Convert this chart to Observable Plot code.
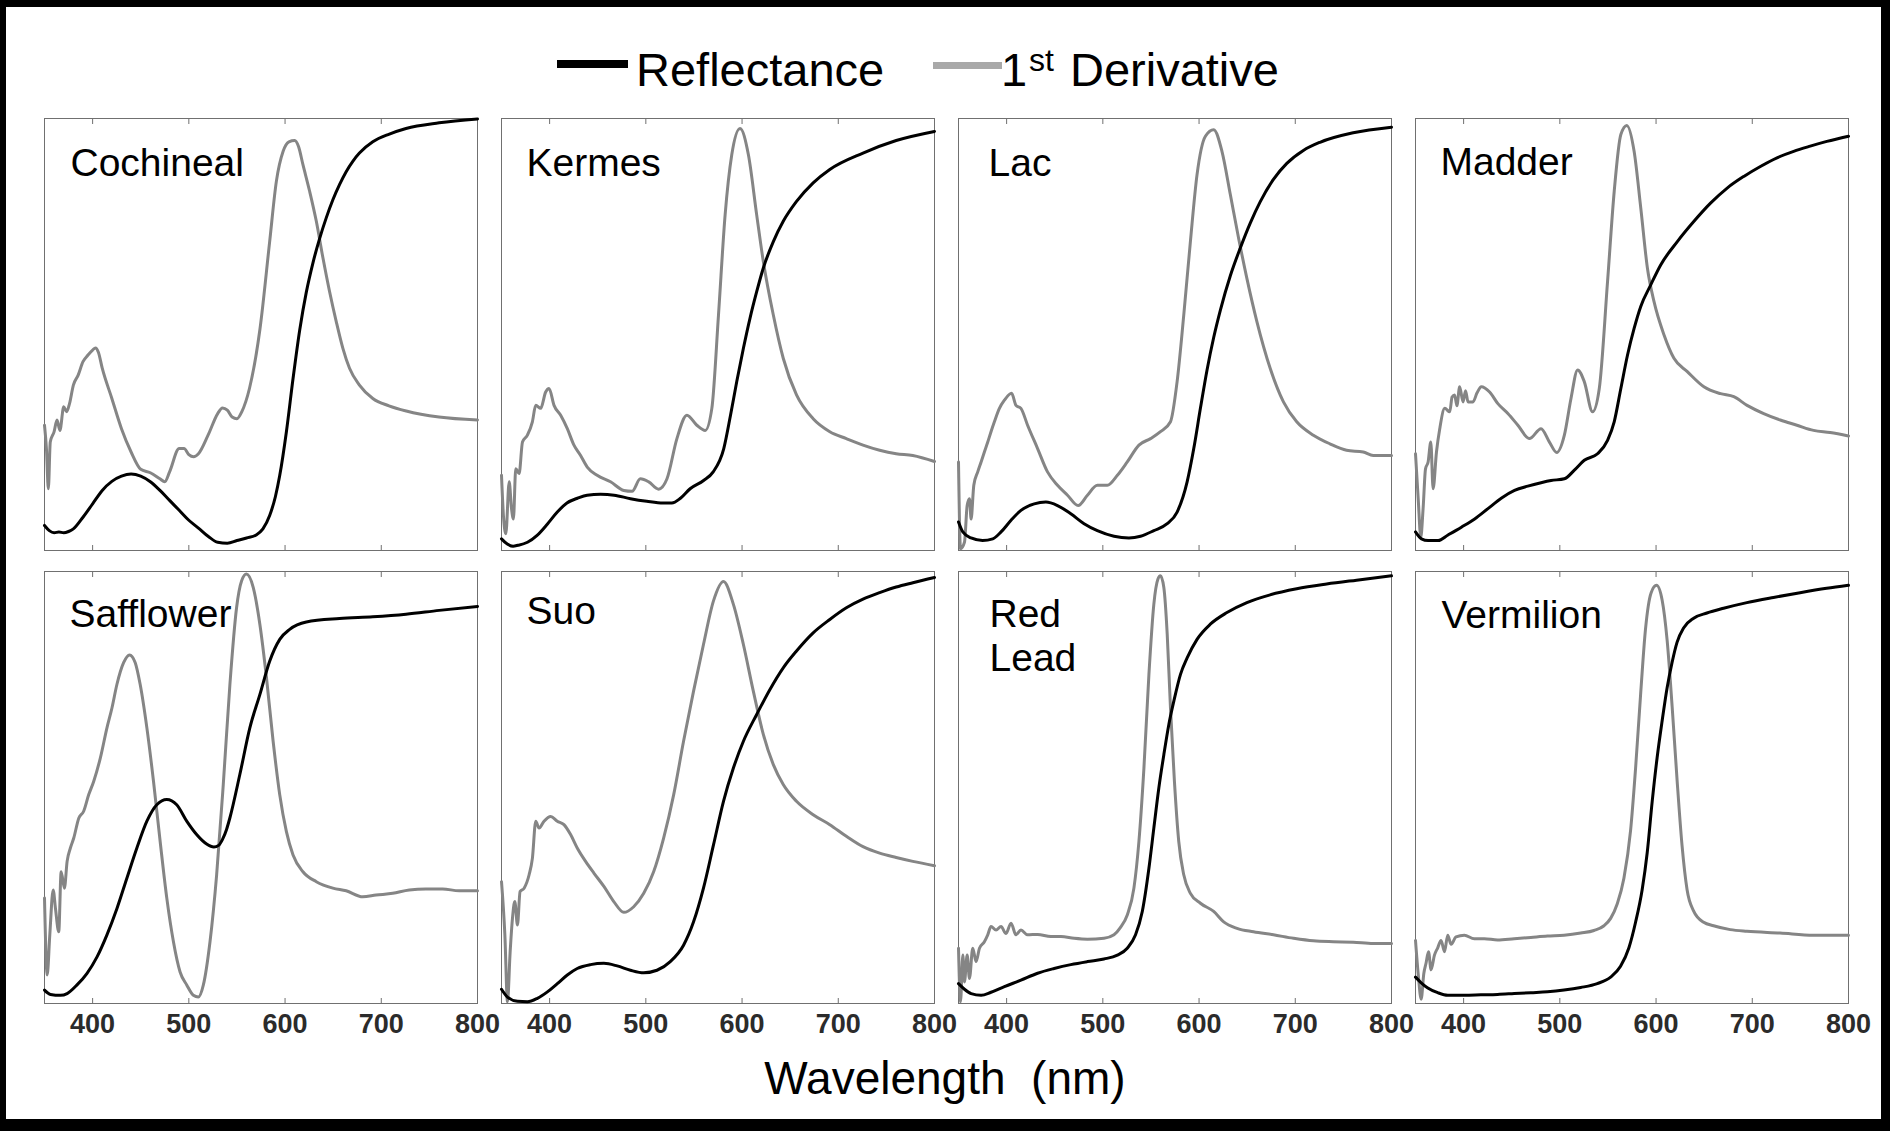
<!DOCTYPE html>
<html><head><meta charset="utf-8">
<script src="https://cdn.jsdelivr.net/npm/d3@7"></script>
<script src="https://cdn.jsdelivr.net/npm/@observablehq/plot@0.6"></script>
<style>
html,body{margin:0;padding:0;background:#fff;}
#wrap{position:relative;width:1890px;height:1141px;overflow:hidden;font-family:"Liberation Sans",Arial,sans-serif;background:#fff;}
#border{position:absolute;left:0;top:0;width:1890px;height:1131px;box-sizing:border-box;border-style:solid;border-color:#000;border-width:7px 9px 12px 6px;pointer-events:none;}
#chart{position:absolute;left:0;top:100px;}
.leg{position:absolute;font-size:47px;line-height:47px;color:#000;white-space:pre;}
.sw{position:absolute;}
#xlabel{position:absolute;left:0;top:1055px;width:1890px;text-align:center;font-size:46px;line-height:46px;white-space:pre;color:#000;}
</style></head>
<body>
<div id="wrap">
  <div class="sw" style="left:557px;top:60px;width:71px;height:8px;background:#000;"></div>
  <span class="leg" style="left:636px;top:46px;">Reflectance</span>
  <div class="sw" style="left:933px;top:62px;width:69px;height:7px;background:#a9a9a9;"></div>
  <span class="leg" style="left:1001px;top:46px;">1</span>
  <span class="leg" style="left:1029px;top:44px;font-size:32px;line-height:32px;">st</span>
  <span class="leg" style="left:1070px;top:46px;">Derivative</span>
  <div id="chart"></div>
  <div id="xlabel">Wavelength  (nm)</div>
  <div id="border"></div>
</div>
<script>
// ---- data: [wavelength nm, normalized value %] ----
const pigments = ["Cochineal", "Kermes", "Lac", "Madder", "Safflower", "Suo", "Red\nLead", "Vermilion"];
const seriesNames = ["Reflectance", "1st Derivative"];
const tickValues = [400, 500, 600, 700];
const tickLabels = [400, 500, 600, 700, 800];

const cochinealR = [[350,5.8],[355,4.6],[360,4.1],[365,4.3],[370,4.1],[375,4.4],[380,5.0],[390,7.7],[400,10.8],[410,13.9],[420,16.0],[430,17.2],[440,17.7],[450,17.2],[460,15.9],[470,13.9],[480,11.6],[490,9.3],[500,7.0],[510,5.2],[520,3.3],[530,1.9],[540,1.7],[550,2.3],[560,2.9],[570,3.6],[577,5.0],[584,8.1],[590,12.5],[594.5,17.4],[601.4,27.5],[608.3,39.8],[615.2,51.0],[622.1,59.8],[629,66.6],[635.9,72.2],[642.8,77.0],[649.7,81.2],[656.6,84.7],[663.5,87.7],[670.4,90.1],[677.3,92.0],[691.2,94.6],[708.4,96.4],[725.7,97.7],[760.2,99.0],[800,99.9]];
const cochinealD = [[350,29.0],[352,23.6],[354,14.3],[356,25.1],[360,27.5],[363,30.2],[366,27.8],[370,33.3],[373,32.1],[376,34.0],[380,38.3],[385,40.6],[390,43.7],[395,45.2],[400,46.4],[403,46.9],[406,45.9],[410,42.2],[420,35.2],[430,28.2],[440,22.8],[450,18.8],[460,18.0],[470,16.6],[475,15.9],[480,18.2],[490,23.6],[495,23.6],[500,22.2],[505,21.7],[510,22.4],[520,26.7],[530,31.7],[535,33.0],[540,32.5],[545,30.9],[550,30.5],[555,32.1],[563,37.5],[574,51.4],[584,71.5],[591,85.5],[598,92.4],[604,94.6],[610,94.9],[614,93.5],[618.6,89.3],[625.6,83.1],[632.5,76.2],[639.4,67.7],[646.3,59.9],[653.2,53.0],[660.1,46.8],[667,42.2],[677.3,38.3],[691.2,35.2],[708,33.5],[726,32.3],[760,30.9],[800,30.2]];

const kermesR = [[350,2.7],[356,1.5],[362,1.0],[367,1.2],[377,1.9],[387,3.5],[398,6.2],[408,8.9],[418,11.0],[429,12.1],[439,12.8],[453,13.0],[467,12.8],[484,12.0],[501,11.4],[518,11.0],[527,11.0],[536,12.1],[546,14.3],[560,16.2],[570,18.2],[581,23.6],[588,31.3],[594.5,39.1],[601.4,46.8],[608.3,53.8],[615.2,59.9],[622.1,65.4],[632.5,71.5],[642.8,76.2],[656.6,80.8],[673.9,85.1],[691.2,88.2],[725.7,92.0],[760.2,94.9],[800,97.0]];
const kermesD = [[350,17.4],[352,8.1],[354.5,3.9],[358,15.9],[360.4,9.7],[362.4,7.3],[364.8,18.9],[368.3,17.8],[371.8,25.1],[376.9,26.7],[382.1,29.8],[385.6,33.6],[390.7,32.9],[395.9,36.7],[399.4,37.5],[404.6,33.6],[411.5,31.3],[418.4,28.2],[425.3,24.4],[432.2,22.0],[439.1,19.3],[449.4,17.4],[463.3,15.9],[477.1,13.9],[485.7,13.7],[494.3,16.6],[503,15.9],[513.3,14.2],[522,16.6],[532.3,25.9],[542.7,31.3],[553,29.0],[561.7,27.8],[568.6,32.9],[575.5,54.5],[582.4,77.7],[589.3,91.6],[597.9,97.7],[606.6,91.6],[615.2,77.7],[622.1,66.9],[632.5,54.5],[642.8,44.5],[656.6,36.0],[673.9,30.5],[691.2,27.5],[708.4,25.9],[725.7,24.4],[743,23.2],[760.2,22.4],[777.5,22.0],[800,20.6]];

const lacR = [[350,6.6],[354.5,4.3],[363,2.9],[375,2.3],[385.6,2.7],[394.2,4.3],[404.6,7.0],[414.9,9.3],[428.7,10.8],[440.8,11.2],[452.9,10.4],[466.7,8.5],[480.5,6.2],[494.3,4.6],[511.6,3.3],[527.1,2.9],[539.2,3.3],[553,4.6],[566.9,6.2],[577.2,8.9],[587.6,15.9],[594.5,23.6],[601.4,32.9],[608.3,41.8],[615.2,49.3],[622.1,55.6],[632.5,63.6],[642.8,70.0],[653.2,75.8],[663.5,80.7],[677.3,85.9],[691.2,89.6],[708.4,92.6],[725.7,94.5],[760.2,96.7],[800,98.0]];
const lacD = [[350,20.5],[352.1,0.4],[356.2,1.9],[359,10.4],[361.4,12.0],[363.1,7.3],[365.9,15.1],[370,18.2],[373.5,20.5],[376.9,22.8],[380.4,25.1],[383.8,27.5],[387.3,29.8],[392.5,32.9],[397.7,34.8],[405.2,36.4],[409.7,33.6],[414.9,32.9],[421.8,29.0],[432.2,23.6],[442.5,18.2],[452.9,15.1],[463.3,12.8],[474.3,10.4],[484,12.8],[494.3,15.1],[504.7,15.1],[515.1,17.4],[525.4,20.5],[537.5,24.4],[549.6,25.9],[559.9,27.5],[570.3,29.8],[577.2,39.1],[584.1,54.5],[591,71.5],[597.9,87.0],[606.6,95.9],[615.2,97.4],[623.8,92.4],[632.5,82.4],[641.1,72.3],[649.7,63.0],[660.1,53.0],[673.9,42.2],[687.7,34.4],[701.5,29.8],[718.8,26.7],[736,24.7],[753.3,23.2],[770.6,22.8],[781,22.0],[800,22.0]];

const madderR = [[350,4.3],[356.2,2.7],[363.1,2.3],[373.5,2.3],[383.8,3.6],[397.7,5.4],[411.5,7.3],[425.3,9.7],[439.1,12.1],[452.9,13.9],[466.7,14.9],[480.5,15.7],[490.9,16.2],[504.7,16.6],[515.1,18.6],[525.4,20.9],[539.2,22.4],[549.6,25.5],[556.5,29.8],[563.4,37.5],[570.3,45.2],[577.2,51.4],[584.1,56.5],[594.5,61.5],[604.8,66.1],[622.1,71.5],[639.4,76.2],[656.6,80.4],[673.9,83.9],[691.2,86.6],[708.4,88.9],[725.7,90.9],[743,92.4],[760.2,93.6],[777.5,94.7],[800,95.9]];
const madderD = [[350,22.4],[352.8,12.0],[355.5,3.1],[357.9,9.7],[360.4,18.9],[363.1,20.5],[365.9,25.1],[368.3,14.3],[371.8,22.8],[375.2,28.2],[380.4,32.9],[385.6,32.1],[388,35.5],[390.7,36.0],[393,33.5],[395.9,37.9],[399.4,34.4],[402,37.0],[404.6,34.4],[409.7,34.4],[414,36.5],[418.4,37.9],[427,36.7],[435.6,34.0],[446,31.7],[456.4,29.0],[468.4,25.9],[480.5,28.2],[489.2,25.1],[496.8,22.7],[504.7,26.7],[511.6,35.2],[518.5,41.8],[525.4,39.1],[534,32.1],[541,37.5],[549.6,62.3],[556.5,83.1],[563.4,96.3],[569.6,98.4],[577.2,92.4],[584.1,79.3],[591,65.4],[597.9,57.6],[608.3,49.9],[618.6,44.5],[632.5,41.4],[649.7,37.9],[667,36.3],[680.8,35.6],[694.6,33.6],[711.9,31.7],[729.1,30.2],[746.4,29.0],[763.7,27.8],[780.9,27.3],[800,26.5]];

const safflowerR = [[350,3.1],[356.2,2.1],[366.6,1.9],[373.5,2.3],[383.8,4.3],[394.2,7.0],[404.6,10.8],[414.9,15.9],[425.3,22.0],[435.6,29.0],[446,36.0],[456.4,42.2],[466.7,46.0],[477.1,47.2],[487.4,46.0],[497.8,42.2],[508.1,39.1],[518.5,36.9],[526,36.2],[531,36.6],[535,38.0],[539.2,40.3],[542.7,43.0],[553,53.0],[563.4,63.8],[573.8,71.5],[584.1,79.3],[594.5,84.3],[604.8,86.6],[622.1,88.3],[656.6,89.1],[691.2,89.5],[725.7,90.1],[760.2,91.0],[800,91.9]];
const safflowerD = [[350,24.4],[352.8,6.6],[355.5,15.9],[359,26.3],[361.4,22.0],[364.8,16.6],[367.3,30.5],[370.7,26.7],[373.5,32.9],[376.9,36.0],[380.4,38.3],[385.6,42.9],[390.7,44.5],[395.9,48.3],[401.1,51.4],[408,56.8],[414.9,63.8],[420.1,68.4],[425.3,73.9],[432.2,78.9],[438.4,80.7],[444.3,78.9],[449.4,73.9],[456.4,63.8],[463.3,51.4],[470.2,37.5],[477.1,24.4],[484,14.3],[490.9,7.3],[497.8,4.3],[504.7,1.9],[509.9,1.5],[515.1,4.3],[522,14.3],[528.9,29.8],[535.8,50.7],[542.7,73.9],[549.6,91.6],[554.8,97.8],[559.9,99.4],[566.9,96.3],[573.8,87.8],[580.7,75.4],[587.6,60.7],[594.5,48.3],[601.4,39.8],[608.3,34.4],[618.6,30.5],[632.5,28.2],[649.7,26.7],[663.5,26.1],[680.8,24.7],[694.6,25.1],[711.9,25.5],[729.1,26.3],[746.4,26.5],[763.7,26.5],[780.9,26.1],[800,26.1]];

const suoR = [[350,3.3],[356.2,1.5],[366.6,0.5],[376.9,0.4],[387.3,1.2],[397.7,2.7],[408,4.6],[418.4,6.6],[428.7,8.1],[442.5,9.0],[456.4,9.3],[470.2,8.7],[484,7.7],[497.8,7.1],[511.6,7.7],[525.4,9.7],[539.2,13.5],[549.6,18.9],[559.9,26.7],[570.3,36.7],[580.7,46.8],[591,54.5],[601.4,60.7],[615.2,66.9],[629,72.7],[642.8,77.7],[656.6,81.6],[673.9,85.8],[691.2,88.9],[708.4,91.6],[725.7,93.6],[743,95.1],[760.2,96.4],[777.5,97.4],[800,98.6]];
const suoD = [[350,28.2],[353.5,15.9],[356.2,0.4],[359,12.0],[361.4,19.7],[363.8,23.6],[366.6,18.2],[369.3,25.9],[373.5,26.7],[378.7,29.8],[382.1,33.6],[385.6,42.2],[389,40.6],[394.2,42.2],[401.1,43.3],[408,42.2],[414.9,41.4],[421.8,39.1],[428.7,36.0],[437.4,32.9],[446,30.2],[456.4,27.1],[466.7,23.6],[477.1,21.1],[487.4,22.4],[497.8,25.5],[508.1,30.5],[518.5,38.3],[528.9,48.3],[539.2,60.7],[549.6,72.3],[559.9,83.1],[570.3,93.2],[580.7,97.7],[591,92.4],[601.4,83.1],[611.7,72.3],[622.1,62.3],[632.5,55.3],[642.8,50.7],[656.6,46.8],[673.9,43.7],[691.2,41.4],[708.4,38.7],[725.7,36.3],[743,34.8],[760.2,33.8],[777.5,32.9],[800,31.9]];

const redLeadR = [[350,4.6],[356.2,3.3],[363.1,2.3],[373.5,1.9],[383.8,2.6],[397.7,3.9],[414.9,5.4],[432.2,7.0],[449.4,8.1],[466.7,9.0],[484,9.7],[501.2,10.3],[515.1,11.2],[525.4,12.8],[534,15.9],[541,21.3],[547.9,31.3],[553,40.6],[558.2,49.9],[563.4,57.6],[568.6,64.6],[573.8,70.0],[580.7,76.2],[587.6,80.0],[597.9,84.3],[611.7,87.8],[629,90.5],[649.7,92.8],[673.9,94.6],[701.5,96.0],[732.6,97.1],[763.7,98.0],[800,99.0]];
const redLeadD = [[350,12.8],[352.1,0.4],[354.5,11.2],[356.2,5.0],[359,11.2],[361.4,5.8],[364.8,12.8],[368.3,9.7],[371.8,12.8],[376.9,14.3],[380.4,15.9],[383.8,17.8],[389,17.0],[394.2,17.8],[399.4,16.2],[404.6,18.6],[409.7,15.9],[414.9,17.0],[421.8,15.9],[432.2,16.0],[446,15.5],[456.4,15.5],[470.2,15.1],[484,14.9],[501.2,15.1],[511.6,15.9],[518,17.5],[525.4,20.5],[532.3,26.7],[537.5,37.5],[542.7,54.5],[547.9,76.2],[553,92.4],[557.2,98.2],[559.9,99.0],[563.4,96.3],[566.9,85.5],[570.3,68.4],[574.4,51.4],[578.9,37.5],[584.1,29.8],[591,25.5],[601.4,23.2],[615.2,21.3],[625.6,18.9],[639.4,17.4],[656.6,16.6],[677.3,15.9],[698.1,15.1],[718.8,14.5],[739.5,14.3],[760.2,14.2],[780.9,13.9],[800,13.9]];

const vermilionR = [[350,6.1],[355.9,4.8],[362.8,3.6],[373.1,2.5],[383.5,1.9],[400.8,1.9],[418,2.0],[435.3,2.1],[452.6,2.3],[469.9,2.5],[487.1,2.7],[504.4,3.1],[521.7,3.7],[538.9,4.6],[552.8,6.1],[563.1,8.6],[571.8,12.9],[578.7,18.8],[585.6,26.4],[590.8,34.9],[596,46.8],[601.1,56.9],[606.3,65.4],[611.5,73.1],[616.7,79.0],[621.8,83.6],[628.8,87.0],[639.1,89.2],[652.9,90.4],[670.2,91.5],[694.4,92.8],[722,94.0],[749.7,95.1],[777.3,96.1],[800,96.8]];
const vermilionD = [[350,14.6],[353.1,6.1],[355.9,1.0],[358.6,6.9],[361.1,9.5],[363.5,12.0],[366.2,7.8],[369.7,11.2],[373.1,12.9],[376.6,14.6],[380.1,12.0],[383.5,15.8],[387,13.7],[392.1,15.4],[400.8,15.8],[411.1,15.0],[421.5,15.0],[435.3,14.7],[452.6,15.0],[469.9,15.3],[487.1,15.6],[504.4,15.8],[521.7,16.3],[535.5,16.9],[545.9,18.0],[552.8,19.7],[559.7,23.1],[566.6,29.0],[573.5,40.0],[578.7,54.4],[583.9,71.4],[589,86.6],[594.9,95.1],[600.5,96.8],[606.3,93.4],[611.5,84.1],[616.7,68.8],[621.8,51.9],[627,36.6],[632.2,26.4],[639.1,21.4],[649.5,18.8],[659.8,18.0],[677.1,17.1],[694.4,16.7],[728.9,16.3],[763.5,15.8],[800,15.8]];

// ---- build table ----
const reflect = [cochinealR, kermesR, lacR, madderR, safflowerR, suoR, redLeadR, vermilionR];
const deriv = [cochinealD, kermesD, lacD, madderD, safflowerD, suoD, redLeadD, vermilionD];
const rows = [];
pigments.forEach((name, i) => {
  const col = i % 4, row = Math.floor(i / 4);
  for (const [nm, v] of reflect[i]) rows.push({pigment: name, col, row, series: seriesNames[0], nm, v});
  for (const [nm, v] of deriv[i]) rows.push({pigment: name, col, row, series: seriesNames[1], nm, v});
});
const labelStyle = [[26,26],[25,26],[30,26],[25,25],[25,24],[25,21],[31,24],[26,25]];
const labelMarks = pigments.map((name, i) => Plot.text([{col: i % 4, row: Math.floor(i / 4), label: name}], {
  fx: "col", fy: "row", text: "label", frameAnchor: "top-left", textAnchor: "start", lineAnchor: "top",
  dx: labelStyle[i][0], dy: labelStyle[i][1], fontSize: 39, lineHeight: 1.13, fill: "#000"
}));

const chart = Plot.plot({
  width: 1890, height: 960,
  marginLeft: 42, marginRight: 40, marginTop: 18, marginBottom: 56,
  x: {domain: [350, 800], label: null},
  y: {domain: [0, 100], axis: null},
  fx: {domain: [0, 1, 2, 3], axis: null, paddingInner: 0.0524, paddingOuter: 0},
  fy: {domain: [0, 1], axis: null, paddingInner: 0.0463, paddingOuter: 0},
  style: {fontFamily: "'Liberation Sans', Arial, sans-serif", background: "transparent", overflow: "visible"},
  marks: [
    Plot.frame({stroke: "#707070", strokeWidth: 1}),
    Plot.line(rows.filter(d => d.series === seriesNames[1]), {x: "nm", y: "v", fx: "col", fy: "row", z: "pigment", stroke: "#858585", strokeWidth: 3, curve: "monotone-x"}),
    Plot.line(rows.filter(d => d.series === seriesNames[0]), {x: "nm", y: "v", fx: "col", fy: "row", z: "pigment", stroke: "#000", strokeWidth: 3, curve: "monotone-x"}),
    ...labelMarks,
    Plot.axisX(tickValues, {anchor: "bottom", tickSize: -5, tickFormat: () => "", facetAnchor: null, stroke: "#707070", label: null}),
    Plot.axisX(tickValues, {anchor: "top", tickSize: -5, tickFormat: () => "", facetAnchor: null, stroke: "#707070", label: null}),
    Plot.axisX(tickLabels, {anchor: "bottom", tickSize: 0, tickPadding: 10, fontSize: 27, fontWeight: "bold", fill: "#2b2b2b", label: null})
  ]
});
document.getElementById("chart").appendChild(chart);
</script>
</body></html>
